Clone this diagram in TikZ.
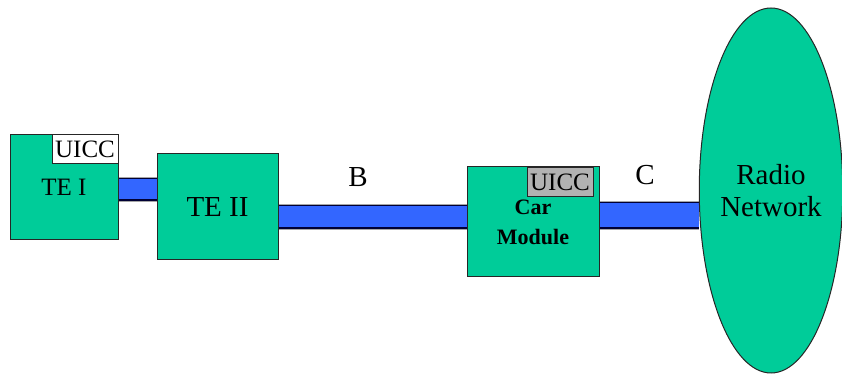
\documentclass[tikz,border=0pt]{standalone}
\usepackage{fontspec}
\setmainfont{Liberation Serif}
\usetikzlibrary{shapes, calc, positioning, backgrounds}

\definecolor{tegreen}{HTML}{00CC99}
\definecolor{barblue}{HTML}{3366FF}
\definecolor{uiccgray}{HTML}{B2B2B2}

\tikzset{
    box/.style = {draw=black!85, line width=1pt, fill=tegreen, inner sep=0pt},
    uicc/.style = {draw=black!85, line width=1pt, inner sep=0pt,
        minimum width=66pt, minimum height=29pt, font=\fontsize{25}{28}\selectfont},
    link/.style = {draw=black!80!blue, line width=1.5pt, double=barblue,
        preaction={draw=black!35, line width=#1+5pt}, double distance=#1},
    link/.default = 20pt
}

\begin{document}
\begin{tikzpicture}[x=1pt, y=1pt]
    \useasboundingbox (0,0) rectangle (842,374);

    \node[box, minimum width=108pt, minimum height=105pt,
          font=\fontsize{25}{28}\selectfont] (te1) at (64,186.5) {TE I};
    \node[uicc, fill=white, anchor=north east] (uicc1) at (te1.north east) {UICC};

    \node[box, minimum width=121pt, minimum height=106pt,
          font=\fontsize{29}{32}\selectfont, right = 38pt of te1, yshift=-19.5pt] (te2) {TE II};

    \node[box, minimum width=132pt, minimum height=110pt, align=center,
          font=\fontsize{22}{30}\selectfont\bfseries, right = 188pt of te2, yshift=-15pt] (car) {Car\\Module};
    \node[uicc, fill=uiccgray, anchor=north east] (uicc2) at ($(car.north east)+(-6,-1)$) {UICC};

    \node[box, ellipse, minimum width=142pt, minimum height=365pt, align=center,
          font=\fontsize{29}{32}\selectfont] (net) at (771,183.5) {Radio\\Network};

    \node[font=\fontsize{29}{32}\selectfont] (lbl-b) at (358,197) {B};
    \node[font=\fontsize{29}{32}\selectfont] (lbl-c) at (645,199) {C};

    \coordinate (te1-out) at ($(te1.east)+(0,-2)$);
    \coordinate (te2-out) at ($(te2.east)+(0,-10)$);
    \coordinate (car-out) at ($(car.east)+(0,6.5)$);

    \begin{scope}[on background layer]
        \draw[link] (te1-out) -- (te1-out -| te2.west);
        \draw[link=21pt] (te2-out) -- (te2-out -| car.west);
        \draw[link=24pt] (car-out) -- (car-out -| net.west);
    \end{scope}

\end{tikzpicture}
\end{document}
